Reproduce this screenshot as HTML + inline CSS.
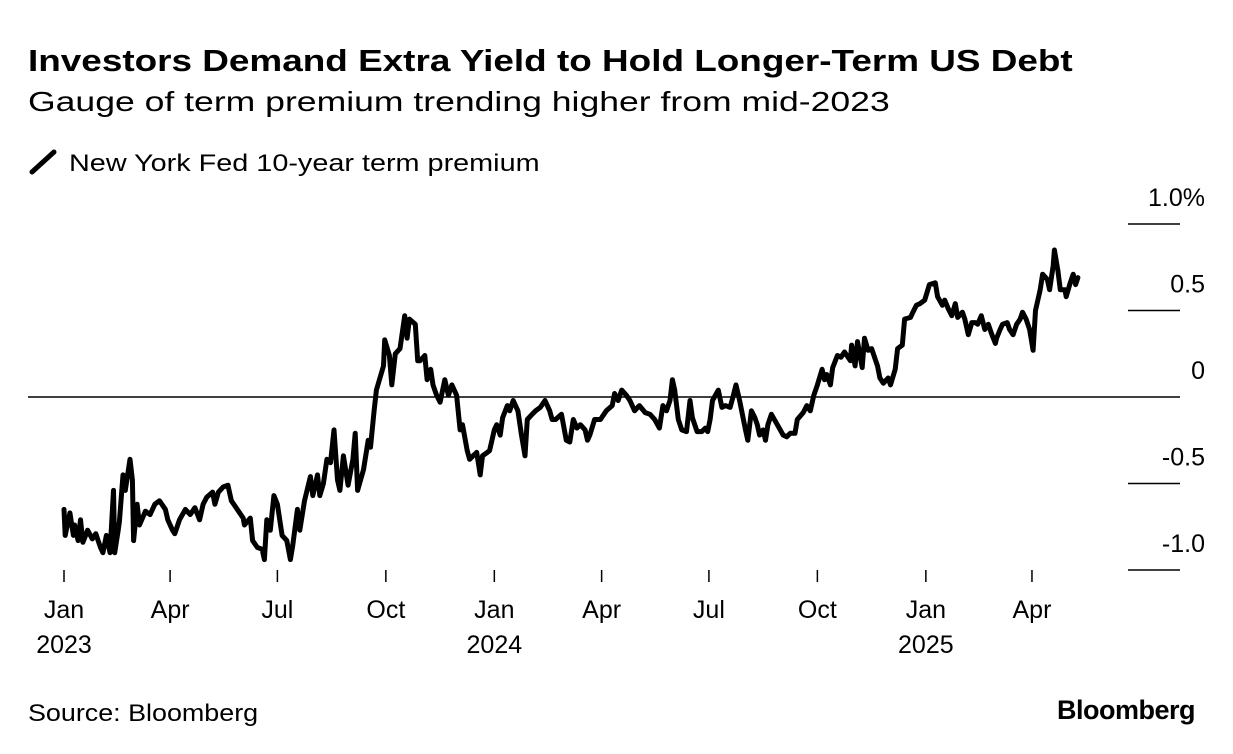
<!DOCTYPE html>
<html><head><meta charset="utf-8"><style>
body{margin:0;background:#fff;width:1233px;height:754px;overflow:hidden;font-family:"Liberation Sans",Arial,sans-serif;color:#000}
.t{position:absolute;white-space:nowrap;transform-origin:0 0}
</style></head><body>
<div class="t" style="left:28px;top:43px;font-size:31px;font-weight:bold;transform:scaleX(1.19)">Investors Demand Extra Yield to Hold Longer-Term US Debt</div>
<div class="t" style="left:28px;top:86px;font-size:28px;transform:scaleX(1.27)">Gauge of term premium trending higher from mid-2023</div>
<div class="t" style="left:28px;top:148px;font-size:24px">
<svg width="30" height="28" style="vertical-align:-5px"><line x1="4" y1="24" x2="26" y2="4" stroke="#000" stroke-width="5" stroke-linecap="round"/></svg>
<span style="margin-left:4px;display:inline-block;transform:scaleX(1.2);transform-origin:0 0">New York Fed 10-year term premium</span></div>
<svg id="chart" width="1233" height="754" style="position:absolute;left:0;top:0"></svg>
<div class="t" style="left:28px;top:700px;font-size:24px;transform:scaleX(1.12)">Source: Bloomberg</div>
<div class="t" style="right:38px;top:695px;font-size:27px;font-weight:bold;letter-spacing:-0.5px">Bloomberg</div>
<script>
const days=[0,1,5,8,9,12,14,16,20,24,27,31,33,36,39,42,43,46,47,50,52,56,58,59,62,64,69,73,77,81,86,88,92,94,98,103,107,111,115,118,121,126,128,131,135,139,142,147,152,153,158,160,164,168,170,172,175,178,181,185,189,192,194,198,200,204,209,211,215,217,220,223,226,229,232,234,237,241,245,247,249,254,258,260,263,265,271,272,276,278,281,285,289,291,293,298,300,302,306,308,311,313,316,319,323,326,329,333,336,338,342,344,347,350,353,355,359,361,365,367,370,372,376,378,381,385,388,391,393,397,400,404,408,412,414,417,422,426,429,432,435,438,442,444,446,450,455,460,465,467,470,473,477,480,484,488,493,497,501,505,508,511,514,516,518,521,524,528,531,533,537,541,544,546,548,550,555,558,561,565,567,570,573,578,580,583,586,588,590,593,595,597,600,605,610,613,616,620,622,627,630,633,636,639,643,645,647,650,652,656,659,662,667,668,671,673,677,679,682,685,690,692,695,699,701,705,707,711,713,718,720,723,726,730,734,739,741,745,747,750,753,756,758,762,764,767,770,773,775,778,781,784,787,790,791,794,796,800,802,805,808,811,813,816,819,822,824,828,830,834,836,839,840,843,845,849,850,853,856,858,860];
const values=[-0.65,-0.80,-0.67,-0.80,-0.74,-0.83,-0.71,-0.84,-0.77,-0.82,-0.79,-0.87,-0.90,-0.80,-0.90,-0.54,-0.90,-0.77,-0.72,-0.45,-0.54,-0.36,-0.48,-0.83,-0.62,-0.74,-0.66,-0.68,-0.62,-0.60,-0.65,-0.71,-0.77,-0.79,-0.71,-0.65,-0.68,-0.64,-0.71,-0.62,-0.58,-0.55,-0.62,-0.55,-0.52,-0.51,-0.60,-0.65,-0.70,-0.74,-0.70,-0.83,-0.87,-0.88,-0.94,-0.71,-0.77,-0.57,-0.62,-0.80,-0.83,-0.94,-0.86,-0.65,-0.77,-0.60,-0.46,-0.57,-0.45,-0.57,-0.50,-0.36,-0.38,-0.19,-0.48,-0.54,-0.34,-0.51,-0.36,-0.21,-0.54,-0.42,-0.25,-0.29,-0.08,0.04,0.18,0.33,0.24,0.07,0.25,0.28,0.47,0.34,0.45,0.42,0.21,0.21,0.24,0.10,0.16,0.07,0.01,-0.03,0.10,0.01,0.07,0.01,-0.19,-0.16,-0.31,-0.36,-0.34,-0.32,-0.45,-0.34,-0.32,-0.31,-0.19,-0.16,-0.22,-0.12,-0.05,-0.08,-0.02,-0.08,-0.22,-0.34,-0.13,-0.10,-0.08,-0.06,-0.02,-0.08,-0.13,-0.13,-0.10,-0.25,-0.26,-0.13,-0.18,-0.16,-0.19,-0.25,-0.22,-0.13,-0.13,-0.08,-0.05,0.02,-0.02,0.04,0.01,-0.02,-0.08,-0.05,-0.09,-0.10,-0.13,-0.18,-0.05,-0.08,-0.02,0.10,0.04,-0.13,-0.19,-0.20,-0.02,-0.12,-0.20,-0.20,-0.18,-0.20,-0.13,-0.02,0.04,-0.06,-0.05,-0.06,-0.01,0.07,-0.02,-0.19,-0.25,-0.08,-0.12,-0.16,-0.22,-0.19,-0.25,-0.16,-0.10,-0.16,-0.22,-0.23,-0.21,-0.21,-0.13,-0.09,-0.05,-0.08,0.01,0.07,0.16,0.10,0.13,0.07,0.17,0.24,0.23,0.26,0.21,0.30,0.18,0.32,0.17,0.34,0.27,0.28,0.18,0.11,0.08,0.11,0.07,0.16,0.28,0.30,0.45,0.46,0.49,0.53,0.54,0.56,0.65,0.66,0.58,0.53,0.56,0.51,0.47,0.54,0.46,0.49,0.45,0.36,0.43,0.43,0.42,0.47,0.39,0.42,0.36,0.31,0.34,0.39,0.42,0.43,0.39,0.36,0.42,0.45,0.49,0.45,0.39,0.27,0.50,0.62,0.71,0.68,0.62,0.76,0.85,0.73,0.62,0.62,0.58,0.65,0.71,0.65,0.69];
const yTicks=[1.0,0.5,0,-0.5,-1.0];
const yTickLabels=["1.0%","0.5","0","-0.5","-1.0"];
const xTickDays=[0,90,181,273,365,456,547,639,731,821];
const xTickLabels=["Jan","Apr","Jul","Oct","Jan","Apr","Jul","Oct","Jan","Apr"];
const xYearLabels=["2023","","","","2024","","","","2025",""];

const NS="http://www.w3.org/2000/svg";
const svg=document.getElementById('chart');
const X=d=>64+d*1.179;
const Y=v=>397-v*173;
function mk(tag,attrs,parent){const e=document.createElementNS(NS,tag);for(const k in attrs)e.setAttribute(k,attrs[k]);(parent||svg).appendChild(e);return e;}
yTicks.forEach((v,i)=>{
  const isZero=v===0;
  const l=mk('line',{x1:isZero?28:1128,x2:1180,y1:Y(v),y2:Y(v),stroke:'#000','stroke-width':1.5});
  
  
  const t=mk('text',{x:1205,y:Y(v)-18,'text-anchor':'end','font-size':25,'font-family':'Liberation Sans, sans-serif'});
  t.textContent=yTickLabels[i];
  
  
});
xTickDays.forEach((d,i)=>{
  const l=mk('line',{x1:X(d),x2:X(d),y1:570,y2:582,stroke:'#000','stroke-width':1.5});
  
  
  const t=mk('text',{x:X(d),y:618,'text-anchor':'middle','font-size':25,'font-family':'Liberation Sans, sans-serif'});
  t.textContent=xTickLabels[i];
  
  
  if(xYearLabels[i]){
    const y=mk('text',{x:X(d),y:653,'text-anchor':'middle','font-size':25,'font-family':'Liberation Sans, sans-serif'});
    y.textContent=xYearLabels[i];
    
    
  }
});
const p=mk('path',{d:days.map((d,i)=>(i?'L':'M')+X(d).toFixed(1)+','+Y(values[i]).toFixed(1)).join(''),fill:'none',stroke:'#000','stroke-width':5,'stroke-linejoin':'round','stroke-linecap':'round'});


</script>
</body></html>
